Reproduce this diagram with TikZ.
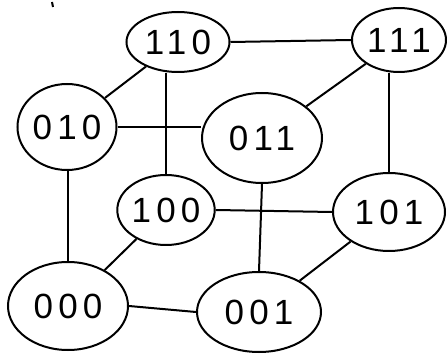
\documentclass[tikz,border=0pt]{standalone}
\usepackage{fontspec}
\usetikzlibrary{shapes.geometric}
\newfontfamily\digitfont[LetterSpace=15]{Liberation Sans}
\tikzset{
  vtx/.style={draw, ellipse, line width=2pt, inner sep=0pt,
    font=\digitfont\fontsize{35}{35}\selectfont},
  edge/.style={line width=2pt}
}
\begin{document}
\begin{tikzpicture}[x=1pt,y=-1pt]
\useasboundingbox (0,0) rectangle (447,355);
\node[vtx, minimum width=103pt, minimum height=60pt] (n110) at (178,42) {110};
\node[vtx, minimum width=94pt, minimum height=64pt] (n111) at (399,40) {111};
\node[vtx, minimum width=99pt, minimum height=86pt] (n010) at (67,127) {010};
\node[vtx, minimum width=120pt, minimum height=90pt] (n011) at (262,138) {011};
\node[vtx, minimum width=92pt, minimum height=70pt] (n100) at (166,210) {100};
\node[vtx, minimum width=112pt, minimum height=78pt] (n101) at (389,212) {101};
\node[vtx, minimum width=120pt, minimum height=88pt] (n000) at (68,306) {000};
\node[vtx, minimum width=124pt, minimum height=80pt] (n001) at (259,312) {001};
\coordinate (m1) at (52,2);
\coordinate (m2) at (53,7);
\draw[edge] (m1) -- (m2);
\draw[edge] (n110.east) -- (n111.west);
\draw[edge] (n110) -- (n010);
\draw[edge] (n100.north |- n110.south) -- (n100.north);
\draw[edge] (n111) -- (n011);
\draw[edge] (n101.north |- n111.south) -- (n101.north);
\draw[edge] (n010.east) -- (n011.west |- n010.east);
\draw[edge] (n010.south -| n000.north) -- (n000.north);
\draw[edge] (n011.south) -- (n001.north);
\draw[edge] (n100.east) -- (n101.west);
\draw[edge] (n100) -- (n000);
\draw[edge] (n101) -- (n001);
\draw[edge] (n000.east) -- (n001.west);
\end{tikzpicture}
\end{document}
